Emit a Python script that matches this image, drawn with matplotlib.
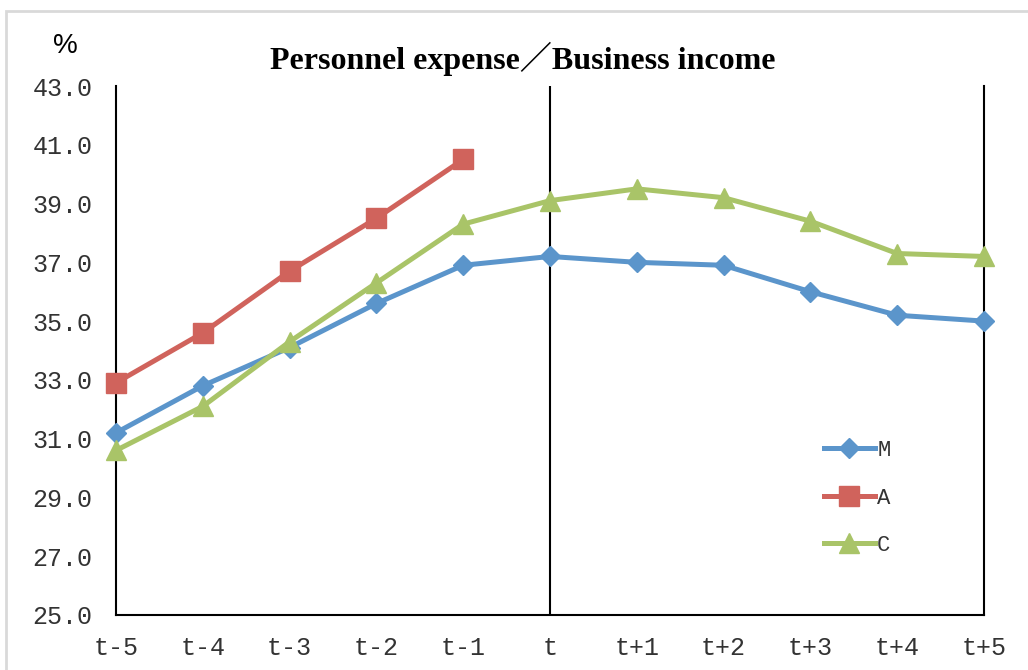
import numpy as np
import matplotlib
matplotlib.use("Agg")
import matplotlib.pyplot as plt
from matplotlib.patches import Rectangle

categories = ["t-5", "t-4", "t-3", "t-2", "t-1", "t", "t+1", "t+2", "t+3", "t+4", "t+5"]
M = [31.2, 32.8, 34.1, 35.6, 36.9, 37.2, 37.0, 36.9, 36.0, 35.2, 35.0]
A = [32.9, 34.6, 36.7, 38.5, 40.5, np.nan, np.nan, np.nan, np.nan, np.nan, np.nan]
C = [30.6, 32.1, 34.3, 36.3, 38.3, 39.1, 39.5, 39.2, 38.4, 37.3, 37.2]
yticks = [25.0, 27.0, 29.0, 31.0, 33.0, 35.0, 37.0, 39.0, 41.0, 43.0]

W, H = 1028, 670
fig = plt.figure(figsize=(W / 100, H / 100), dpi=100)
fig.patch.set_facecolor("white")

# outer light border
fig.patches.append(Rectangle((6 / W, -0.05), 1.2, 1 - 11 / H + 0.05, transform=fig.transFigure,
                             fill=False, edgecolor="#D9D9D9", linewidth=2, zorder=0))

ax = fig.add_axes([116 / W, 1 - 615 / H, (984 - 116) / W, (615 - 86) / H])
x = np.arange(len(categories))

ax.plot(x, M, color="#5B95CB", lw=3.6, marker="D", markersize=10.5,
        markeredgecolor="#5B95CB", label="M", zorder=3, clip_on=False)
ax.plot(x, A, color="#D0635C", lw=3.6, marker="s", markersize=15,
        markeredgecolor="#D0635C", label="A", zorder=4, clip_on=False)
ax.plot(x, C, color="#A9C468", lw=3.6, marker="^", markersize=15,
        markeredgecolor="#A9C468", label="C", zorder=5, clip_on=False)

ax.axvline(5, color="black", lw=1.5, zorder=2)

ax.set_xlim(0, 10)
ax.set_ylim(25, 43)
ax.set_xticks(x)
ax.set_xticklabels(categories)
ax.set_yticks(yticks)
ax.set_yticklabels([f"{v:.1f}" for v in yticks])
ax.tick_params(axis="both", length=0, labelsize=18, colors="#333333")
ax.tick_params(axis="x", pad=15)
ax.tick_params(axis="y", pad=17)
for lab in ax.get_xticklabels() + ax.get_yticklabels():
    lab.set_family("Liberation Mono")
    lab.set_color("#333333")

for s in ["left", "bottom", "right"]:
    ax.spines[s].set_linewidth(1.5)
    ax.spines[s].set_color("black")
ax.spines["top"].set_visible(False)

fig.text(523 / W, 1 - 59 / H, "Personnel expense／Business income",
         ha="center", va="center", fontsize=23, fontweight="bold",
         family=["Liberation Serif", "Noto Sans CJK JP"])
fig.text(65 / W, 1 - 46 / H, "%", ha="center", va="center", fontsize=20,
         family=["Liberation Sans"])

leg = ax.legend(loc="upper left", bbox_to_anchor=((815 - 116) / (984 - 116), 1 - (431 - 86) / (615 - 86)),
                frameon=False, prop={"family": "Liberation Mono", "size": 16},
                handlelength=2.3, handletextpad=0.1, labelspacing=1.2, borderaxespad=0)
for t in leg.get_texts():
    t.set_color("#333333")

fig.savefig("out.png", dpi=100)
